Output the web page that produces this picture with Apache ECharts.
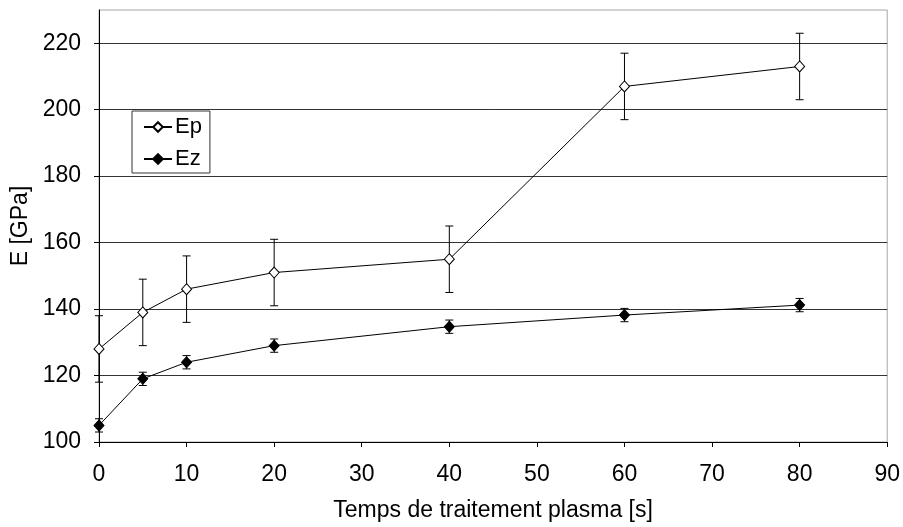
<!DOCTYPE html>
<html>
<head>
<meta charset="utf-8">
<script src="https://cdn.jsdelivr.net/npm/echarts@6/dist/echarts.min.js"></script>
<style>
  html, body { margin: 0; padding: 0; background: #fff; }
  #chart { width: 903px; height: 527px; }
</style>
</head>
<body>
<div id="chart"></div>
<script>
// data
const times   = [0, 5, 10, 20, 40, 60, 80];
const epVals  = [128, 139, 146, 151, 155, 207, 213];
const epErr   = [10, 10, 10, 10, 10, 10, 10];
const ezVals  = [105, 119, 124, 129, 134.7, 138.2, 141.2];
const ezErr   = [2, 2, 2, 2, 2, 2, 2];
const yTicks  = [100, 120, 140, 160, 180, 200, 220];

const FONT = 'Liberation Sans, Arial, sans-serif';

document.addEventListener('DOMContentLoaded', () => {

    const chart = echarts.init(document.getElementById('chart'));

    function errData(vals, errs) {
        return times.map((t, i) => [t, vals[i] - errs[i], vals[i] + errs[i]]);
    }

    function renderErr(params, api) {
        const lo = api.coord([api.value(0), api.value(1)]);
        const hi = api.coord([api.value(0), api.value(2)]);
        const cap = 4;
        const st = { stroke: '#000', lineWidth: 1 };
        return {
            type: 'group',
            children: [
                { type: 'line', shape: { x1: lo[0], y1: lo[1], x2: hi[0], y2: hi[1] }, style: st },
                { type: 'line', shape: { x1: lo[0] - cap, y1: lo[1], x2: lo[0] + cap, y2: lo[1] }, style: st },
                { type: 'line', shape: { x1: hi[0] - cap, y1: hi[1], x2: hi[0] + cap, y2: hi[1] }, style: st }
            ]
        };
    }

    const option = {
        animation: false,
        backgroundColor: '#fff',
        grid: {
            left: 99, right: 13, top: 10, bottom: 85,
            show: true, borderColor: '#a6a6a6', borderWidth: 1
        },
        legend: {
            data: ['Ep', 'Ez'],
            orient: 'vertical',
            left: 132, top: 111,
            padding: [5, 8, 3, 11],
            itemWidth: 28, itemHeight: 12, itemGap: 10,
            backgroundColor: '#fff',
            borderColor: '#333', borderWidth: 1,
            textStyle: { fontFamily: FONT, fontSize: 22, color: '#000', padding: [0, 0, 0, -2] }
        },
        xAxis: {
            type: 'value', min: 0, max: 90, interval: 10,
            name: 'Temps de traitement plasma [s]',
            nameLocation: 'middle', nameGap: 57,
            nameTextStyle: { fontFamily: FONT, fontSize: 23, color: '#000' },
            axisLine: { lineStyle: { color: '#000', width: 1 } },
            axisTick: { show: true, length: 5, lineStyle: { color: '#000' } },
            axisLabel: { fontFamily: FONT, fontSize: 23, color: '#000', margin: 21 },
            splitLine: { show: false }
        },
        yAxis: {
            type: 'value', min: 100, max: 230, interval: 20,
            name: 'E [GPa]',
            nameLocation: 'middle', nameGap: 66,
            nameTextStyle: { fontFamily: FONT, fontSize: 23, color: '#000' },
            axisLine: { show: true, lineStyle: { color: '#000', width: 1 } },
            axisTick: { show: true, length: 5, lineStyle: { color: '#000' }, customValues: yTicks },
            axisLabel: { fontFamily: FONT, fontSize: 23, color: '#000', margin: 18, customValues: yTicks },
            splitLine: {
                show: true,
                lineStyle: {
                    color: ['#333', '#333', '#333', '#333', '#333', '#333', '#333', '#a6a6a6'],
                    width: 1
                }
            }
        },
        series: [
            {
                name: 'EpErr', type: 'custom', renderItem: renderErr,
                data: errData(epVals, epErr), z: 2, silent: true,
                encode: { x: 0, y: [1, 2] }
            },
            {
                name: 'EzErr', type: 'custom', renderItem: renderErr,
                data: errData(ezVals, ezErr), z: 2, silent: true,
                encode: { x: 0, y: [1, 2] }
            },
            {
                name: 'Ep', type: 'line', z: 3,
                data: times.map((t, i) => [t, epVals[i]]),
                symbol: 'diamond', symbolSize: [10, 11],
                lineStyle: { color: '#000', width: 1 },
                itemStyle: { color: '#fff', borderColor: '#000', borderWidth: 1 }
            },
            {
                name: 'Ez', type: 'line', z: 3,
                data: times.map((t, i) => [t, ezVals[i]]),
                symbol: 'diamond', symbolSize: [10, 11],
                lineStyle: { color: '#000', width: 1 },
                itemStyle: { color: '#000', borderColor: '#000', borderWidth: 1 }
            }
        ]
    };

    chart.setOption(option);
});
</script>
</body>
</html>
